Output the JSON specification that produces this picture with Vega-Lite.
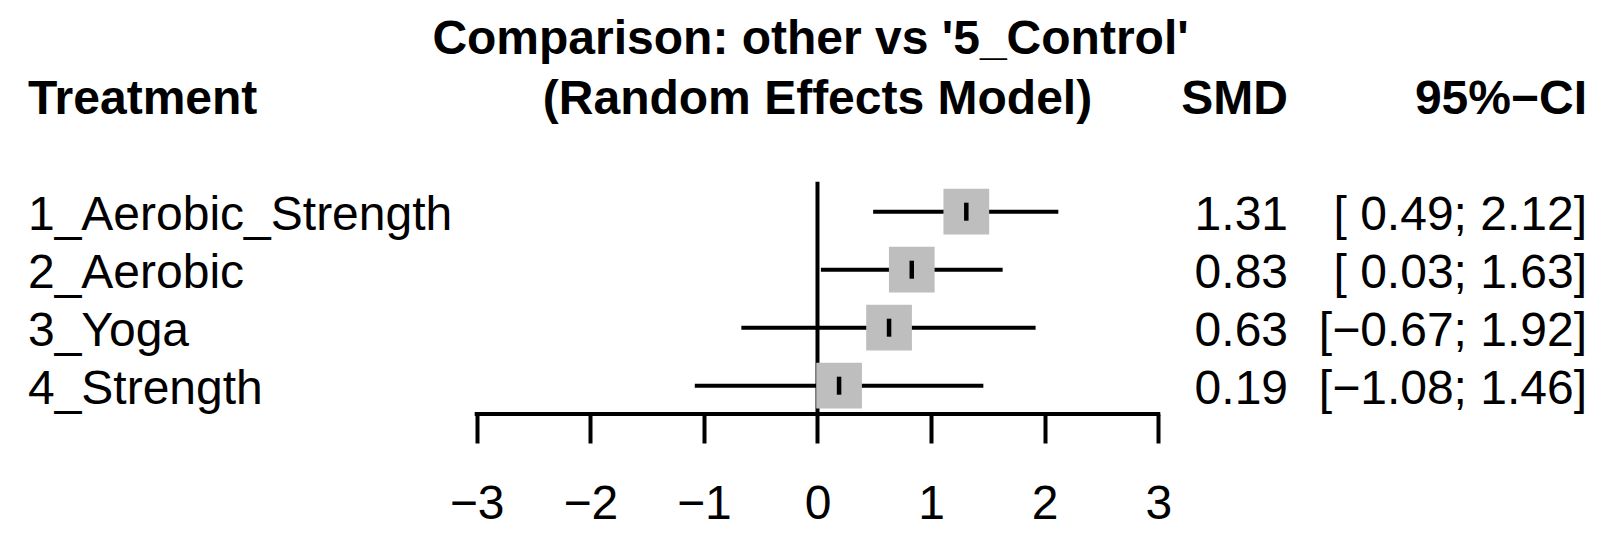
{
  "$schema": "https://vega.github.io/schema/vega-lite/v6.json",
  "width": 1621,
  "height": 344,
  "autosize": {"type": "none"},
  "padding": {"left": 0, "right": 0, "top": 70, "bottom": 135},
  "background": "white",
  "config": {"view": {"stroke": null}, "font": "Liberation Sans"},
  "title": {
    "text": "Comparison: other vs '5_Control'",
    "font": "Liberation Sans",
    "fontSize": 48,
    "fontWeight": "bold",
    "color": "black",
    "anchor": "middle",
    "frame": "group",
    "baseline": "bottom",
    "offset": -42
  },
  "datasets": {
    "rows": [
      {"treatment": "1_Aerobic_Strength", "row": 1, "smd": 1.31, "lower": 0.49, "upper": 2.12, "ci": "[ 0.49; 2.12]"},
      {"treatment": "2_Aerobic", "row": 2, "smd": 0.83, "lower": 0.03, "upper": 1.63, "ci": "[ 0.03; 1.63]"},
      {"treatment": "3_Yoga", "row": 3, "smd": 0.63, "lower": -0.67, "upper": 1.92, "ci": "[−0.67; 1.92]"},
      {"treatment": "4_Strength", "row": 4, "smd": 0.19, "lower": -1.08, "upper": 1.46, "ci": "[−1.08; 1.46]"}
    ]
  },
  "layer": [
    {
      "data": {"values": [{}]},
      "mark": {"type": "rule", "color": "black", "strokeWidth": 4},
      "encoding": {
        "x": {"datum": 0, "type": "quantitative", "title": null, "scale": {"domain": [-7.196, 7.073], "nice": false, "zero": false},
          "axis": {"values": [-3, -2, -1, 0, 1, 2, 3], "format": "d", "domain": false, "grid": false, "ticks": true, "tickSize": 29, "tickWidth": 4, "tickColor": "black", "labelFont": "Liberation Sans", "labelFontSize": 48, "labelColor": "black", "labelPadding": 37, "labelFlush": false, "labelOverlap": false, "title": null, "orient": "bottom"}},
        "y": {"datum": 0.483, "type": "quantitative", "scale": {"domain": [4.488, -1.443], "nice": false, "zero": false}, "axis": null},
        "y2": {"datum": 4.488}
      }
    },
    {
      "data": {"values": [{}]},
      "mark": {"type": "rule", "color": "black", "strokeWidth": 4, "strokeCap": "square"},
      "encoding": {
        "x": {"datum": -3, "type": "quantitative", "title": null,
          "axis": {"values": [-3, -2, -1, 0, 1, 2, 3], "format": "d", "domain": false, "grid": false, "ticks": true, "tickSize": 29, "tickWidth": 4, "tickColor": "black", "labelFont": "Liberation Sans", "labelFontSize": 48, "labelColor": "black", "labelPadding": 37, "labelFlush": false, "labelOverlap": false, "title": null, "orient": "bottom"}},
        "x2": {"datum": 3},
        "y": {"datum": 4.488, "type": "quantitative", "axis": null}
      }
    },
    {
      "data": {"name": "rows"},
      "mark": {"type": "rule", "color": "black", "strokeWidth": 4},
      "encoding": {
        "x": {"field": "lower", "type": "quantitative", "title": null,
          "axis": {"values": [-3, -2, -1, 0, 1, 2, 3], "format": "d", "domain": false, "grid": false, "ticks": true, "tickSize": 29, "tickWidth": 4, "tickColor": "black", "labelFont": "Liberation Sans", "labelFontSize": 48, "labelColor": "black", "labelPadding": 37, "labelFlush": false, "labelOverlap": false, "title": null, "orient": "bottom"}},
        "x2": {"field": "upper"},
        "y": {"field": "row", "type": "quantitative", "axis": null}
      }
    },
    {
      "data": {"name": "rows"},
      "mark": {"type": "point", "shape": "square", "filled": true, "color": "#BEBEBE", "opacity": 1, "size": 2090, "strokeWidth": 0},
      "encoding": {
        "x": {"field": "smd", "type": "quantitative", "title": null,
          "axis": {"values": [-3, -2, -1, 0, 1, 2, 3], "format": "d", "domain": false, "grid": false, "ticks": true, "tickSize": 29, "tickWidth": 4, "tickColor": "black", "labelFont": "Liberation Sans", "labelFontSize": 48, "labelColor": "black", "labelPadding": 37, "labelFlush": false, "labelOverlap": false, "title": null, "orient": "bottom"}},
        "y": {"field": "row", "type": "quantitative", "axis": null}
      }
    },
    {
      "data": {"name": "rows"},
      "mark": {"type": "tick", "orient": "vertical", "color": "black", "size": 18, "thickness": 4.5, "opacity": 1},
      "encoding": {
        "x": {"field": "smd", "type": "quantitative", "title": null,
          "axis": {"values": [-3, -2, -1, 0, 1, 2, 3], "format": "d", "domain": false, "grid": false, "ticks": true, "tickSize": 29, "tickWidth": 4, "tickColor": "black", "labelFont": "Liberation Sans", "labelFontSize": 48, "labelColor": "black", "labelPadding": 37, "labelFlush": false, "labelOverlap": false, "title": null, "orient": "bottom"}},
        "y": {"field": "row", "type": "quantitative", "axis": null}
      }
    },
    {
      "data": {"name": "rows"},
      "mark": {"type": "text", "align": "left", "baseline": "alphabetic", "dy": 18, "fontSize": 48, "font": "Liberation Sans", "color": "black"},
      "encoding": {
        "x": {"datum": -6.95, "type": "quantitative", "title": null,
          "axis": {"values": [-3, -2, -1, 0, 1, 2, 3], "format": "d", "domain": false, "grid": false, "ticks": true, "tickSize": 29, "tickWidth": 4, "tickColor": "black", "labelFont": "Liberation Sans", "labelFontSize": 48, "labelColor": "black", "labelPadding": 37, "labelFlush": false, "labelOverlap": false, "title": null, "orient": "bottom"}},
        "y": {"field": "row", "type": "quantitative", "axis": null},
        "text": {"field": "treatment"}
      }
    },
    {
      "data": {"name": "rows"},
      "mark": {"type": "text", "align": "right", "baseline": "alphabetic", "dy": 18, "fontSize": 48, "font": "Liberation Sans", "color": "black"},
      "encoding": {
        "x": {"datum": 4.142, "type": "quantitative", "title": null,
          "axis": {"values": [-3, -2, -1, 0, 1, 2, 3], "format": "d", "domain": false, "grid": false, "ticks": true, "tickSize": 29, "tickWidth": 4, "tickColor": "black", "labelFont": "Liberation Sans", "labelFontSize": 48, "labelColor": "black", "labelPadding": 37, "labelFlush": false, "labelOverlap": false, "title": null, "orient": "bottom"}},
        "y": {"field": "row", "type": "quantitative", "axis": null},
        "text": {"field": "smd", "format": ".2f"}
      }
    },
    {
      "data": {"name": "rows"},
      "mark": {"type": "text", "align": "right", "baseline": "alphabetic", "dy": 18, "fontSize": 48, "font": "Liberation Sans", "color": "black"},
      "encoding": {
        "x": {"datum": 6.774, "type": "quantitative", "title": null,
          "axis": {"values": [-3, -2, -1, 0, 1, 2, 3], "format": "d", "domain": false, "grid": false, "ticks": true, "tickSize": 29, "tickWidth": 4, "tickColor": "black", "labelFont": "Liberation Sans", "labelFontSize": 48, "labelColor": "black", "labelPadding": 37, "labelFlush": false, "labelOverlap": false, "title": null, "orient": "bottom"}},
        "y": {"field": "row", "type": "quantitative", "axis": null},
        "text": {"field": "ci"}
      }
    },
    {
      "data": {"values": [{"label": "Treatment"}]},
      "mark": {"type": "text", "align": "left", "baseline": "alphabetic", "dy": 18, "fontSize": 48, "fontWeight": "bold", "font": "Liberation Sans", "color": "black"},
      "encoding": {
        "x": {"datum": -6.95, "type": "quantitative", "title": null,
          "axis": {"values": [-3, -2, -1, 0, 1, 2, 3], "format": "d", "domain": false, "grid": false, "ticks": true, "tickSize": 29, "tickWidth": 4, "tickColor": "black", "labelFont": "Liberation Sans", "labelFontSize": 48, "labelColor": "black", "labelPadding": 37, "labelFlush": false, "labelOverlap": false, "title": null, "orient": "bottom"}},
        "y": {"datum": -1, "type": "quantitative", "axis": null},
        "text": {"field": "label"}
      }
    },
    {
      "data": {"values": [{"label": "(Random Effects Model)"}]},
      "mark": {"type": "text", "align": "center", "baseline": "alphabetic", "dy": 18, "fontSize": 48, "fontWeight": "bold", "font": "Liberation Sans", "color": "black"},
      "encoding": {
        "x": {"datum": 0, "type": "quantitative", "title": null,
          "axis": {"values": [-3, -2, -1, 0, 1, 2, 3], "format": "d", "domain": false, "grid": false, "ticks": true, "tickSize": 29, "tickWidth": 4, "tickColor": "black", "labelFont": "Liberation Sans", "labelFontSize": 48, "labelColor": "black", "labelPadding": 37, "labelFlush": false, "labelOverlap": false, "title": null, "orient": "bottom"}},
        "y": {"datum": -1, "type": "quantitative", "axis": null},
        "text": {"field": "label"}
      }
    },
    {
      "data": {"values": [{"label": "SMD"}]},
      "mark": {"type": "text", "align": "right", "baseline": "alphabetic", "dy": 18, "fontSize": 48, "fontWeight": "bold", "font": "Liberation Sans", "color": "black"},
      "encoding": {
        "x": {"datum": 4.142, "type": "quantitative", "title": null,
          "axis": {"values": [-3, -2, -1, 0, 1, 2, 3], "format": "d", "domain": false, "grid": false, "ticks": true, "tickSize": 29, "tickWidth": 4, "tickColor": "black", "labelFont": "Liberation Sans", "labelFontSize": 48, "labelColor": "black", "labelPadding": 37, "labelFlush": false, "labelOverlap": false, "title": null, "orient": "bottom"}},
        "y": {"datum": -1, "type": "quantitative", "axis": null},
        "text": {"field": "label"}
      }
    },
    {
      "data": {"values": [{"label": "95%−CI"}]},
      "mark": {"type": "text", "align": "right", "baseline": "alphabetic", "dy": 18, "fontSize": 48, "fontWeight": "bold", "font": "Liberation Sans", "color": "black"},
      "encoding": {
        "x": {"datum": 6.774, "type": "quantitative", "title": null,
          "axis": {"values": [-3, -2, -1, 0, 1, 2, 3], "format": "d", "domain": false, "grid": false, "ticks": true, "tickSize": 29, "tickWidth": 4, "tickColor": "black", "labelFont": "Liberation Sans", "labelFontSize": 48, "labelColor": "black", "labelPadding": 37, "labelFlush": false, "labelOverlap": false, "title": null, "orient": "bottom"}},
        "y": {"datum": -1, "type": "quantitative", "axis": null},
        "text": {"field": "label"}
      }
    }
  ]
}
